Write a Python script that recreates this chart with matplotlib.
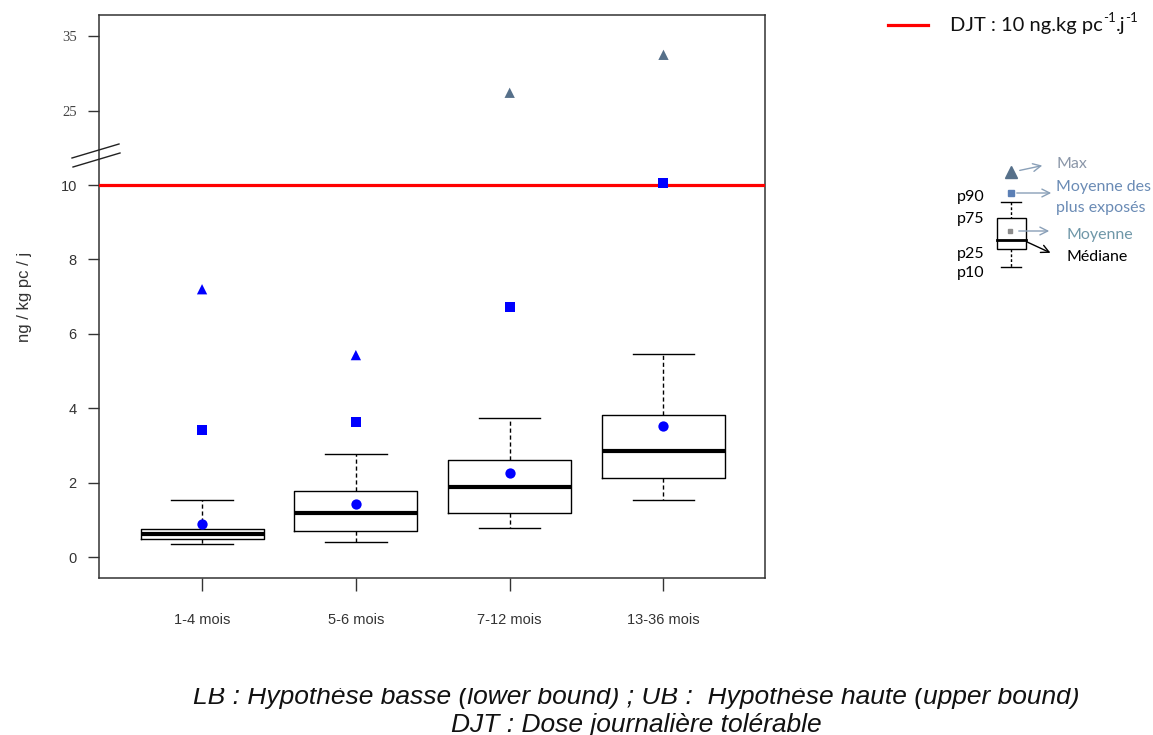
import numpy as np
import matplotlib
matplotlib.use("Agg")
import matplotlib.pyplot as plt
from matplotlib.patches import Rectangle
from matplotlib.transforms import Bbox

# ---------------- data ----------------
groups = ['1-4 mois', '5-6 mois', '7-12 mois', '13-36 mois']
p10 = [0.35, 0.40, 0.78, 1.53]
p25 = [0.48, 0.70, 1.18, 2.12]
median = [0.61, 1.18, 1.88, 2.85]
p75 = [0.75, 1.77, 2.61, 3.83]
p90 = [1.53, 2.76, 3.75, 5.45]
mean_all = [0.88, 1.42, 2.27, 3.52]
mean_top = [3.43, 3.63, 6.72, 10.05]
max_val = [7.20, 5.43, 27.4, 32.5]
djt = 10
yticks_low = [0, 2, 4, 6, 8, 10]
yticks_high = [25, 35]

# ---------------- style ----------------
W, H = 1153, 735
fig = plt.figure(figsize=(W / 100, H / 100), dpi=100)
ax = fig.add_axes([99 / W, 1 - 578 / H, 666 / W, 563 / H])

# broken axis scale (linear up to 10, compressed above)
XP = [-100, 10.3, 20, 200]
FP = [-100, 10.3, 11, 47]
fwd = lambda v: np.interp(v, XP, FP)
inv = lambda d: np.interp(d, FP, XP)
ax.set_yscale('function', functions=(fwd, inv))

pos = np.arange(1, len(groups) + 1)
stats = [dict(whislo=a, q1=b, med=c, q3=d, whishi=e, fliers=[])
         for a, b, c, d, e in zip(p10, p25, median, p75, p90)]
ax.bxp(stats, positions=pos, widths=0.8, capwidths=0.4, showfliers=False,
       boxprops=dict(color='black', lw=1.0),
       medianprops=dict(color='black', lw=3.0, solid_capstyle='butt'),
       whiskerprops=dict(color='black', lw=1.0, linestyle=(0, (3, 2))),
       capprops=dict(color='black', lw=1.0), zorder=2)

ax.axhline(djt, color='#ff0000', lw=2.3, zorder=3)

blue = '#0000ff'
slate = '#56708a'
tri_colors = [blue, blue, slate, slate]
ax.scatter(pos, mean_all, marker='o', s=55, color=blue, zorder=4, linewidths=0)
ax.scatter(pos, mean_top, marker='s', s=42, color=blue, zorder=4, linewidths=0)
ax.scatter(pos, max_val, marker='^', s=55, color=tri_colors, zorder=4, linewidths=0)

ax.set_xlim(0.33, 4.66)
ax.set_ylim(-0.56, inv(14.57))
ax.set_xticks(pos)
ax.set_xticklabels(groups, fontsize=10.5, color='#333333', fontfamily='Liberation Sans')
ax.set_yticks(yticks_low + yticks_high)
ax.set_yticklabels([str(v) for v in yticks_low + yticks_high], fontsize=10.5,
                   color='#333333', fontfamily='Liberation Sans')
for lab in ax.get_yticklabels():
    if lab.get_text() in [str(v) for v in yticks_high]:
        lab.set_fontfamily('Liberation Serif')
        lab.set_fontsize(10.5)
        lab.set_color('#444444')
ax.tick_params(axis='y', length=8, width=1, color='#333333', pad=8)
ax.tick_params(axis='x', length=9, width=1, color='#333333', pad=16)
ax.minorticks_off()
for s in ax.spines.values():
    s.set_color('#333333')
    s.set_linewidth(1.1)
ax.set_ylabel('ng / kg pc / j', fontsize=12, fontfamily='Liberation Sans', color='#333333')
ax.yaxis.set_label_coords(-67 / 666, (578 - 297) / 563)

# ---------------- overlay (pixel coords) ----------------
ov = fig.add_axes([0, 0, 1, 1], zorder=10)
ov.set_xlim(0, W)
ov.set_ylim(H, 0)
ov.axis('off')
ov.patch.set_alpha(0)

# break marks
ov.plot([72, 119], [158, 144], color='#222222', lw=1.0)
ov.plot([73, 120], [167, 153], color='#222222', lw=1.0)

# top-right legend
ov.plot([888, 928], [25, 25], color='#ff0000', lw=2.3)
tk = dict(fontfamily='Lato', va='center', ha='left', color='#111111')
t_main = ov.text(950, 25, 'DJT : 10 ng.kg pc', fontsize=14.5, **tk)


def px(xd):
    return ov.transData.inverted().transform((xd, 0))[0]


fig.canvas.draw()
s1 = ov.text(px(t_main.get_window_extent().x1), 18, '-1', fontsize=9.5, **tk)
fig.canvas.draw()
s2 = ov.text(px(s1.get_window_extent().x1), 25, '.j', fontsize=14.5, **tk)
fig.canvas.draw()
ov.text(px(s2.get_window_extent().x1), 18, '-1', fontsize=9.5, **tk)

# schematic key
lf = dict(fontfamily='Lato', fontsize=11.5, va='center', ha='left')
arr_c = '#8aa0b8'
ov.plot([1011], [172], marker='^', ms=8, color=slate)
ov.annotate('', xy=(1045, 165), xytext=(1017, 171),
            arrowprops=dict(arrowstyle='->', color=arr_c, lw=1, mutation_scale=14))
ov.text(1057, 164, 'Max', color='#8a96a8', **lf)
ov.plot([1011], [193], marker='s', ms=4.5, color='#5b7fb5')
ov.annotate('', xy=(1054, 193), xytext=(1014, 193),
            arrowprops=dict(arrowstyle='->', color=arr_c, lw=1, mutation_scale=14))
ov.text(1056, 187, 'Moyenne des', color='#6a8bb5', **lf)
ov.text(1056, 208, 'plus exposés', color='#6a8bb5', **lf)
for t, yy in [('p90', 197), ('p75', 219), ('p25', 254), ('p10', 273)]:
    ov.text(957, yy, t, color='black', **lf)
ov.plot([1001, 1021], [202, 202], color='black', lw=1)
ov.plot([1011, 1011], [202, 218], color='black', lw=1, ls=(0, (2, 1.5)))
ov.add_patch(Rectangle((997, 218), 29, 31, fill=False, ec='black', lw=1))
ov.plot([997, 1026], [240, 240], color='black', lw=2)
ov.plot([1010], [231], marker='s', ms=3.5, color='#8c8c8c')
ov.annotate('', xy=(1052, 231), xytext=(1016, 231),
            arrowprops=dict(arrowstyle='->', color=arr_c, lw=1, mutation_scale=14))
ov.text(1067, 235, 'Moyenne', color='#6f97a8', **lf)
ov.annotate('', xy=(1053, 254), xytext=(1025, 241),
            arrowprops=dict(arrowstyle='->', color='black', lw=1, mutation_scale=14))
ov.text(1067, 257, 'Médiane', color='black', **lf)
ov.plot([1011, 1011], [249, 267], color='black', lw=1, ls=(0, (2, 1.5)))
ov.plot([1001, 1021], [267, 267], color='black', lw=1)

# bottom notes
t1 = ov.text(636, 704, 'LB : Hypothèse basse (lower bound) ; UB :  Hypothèse haute (upper bound)',
             fontsize=19, fontfamily='Liberation Sans', style='italic', ha='center',
             va='baseline', color='#111111')
clip = Bbox.from_extents(0, 0, W, H - 688)
t1.set_clip_on(True)
t1.set_clip_box(clip)
ov.text(636, 732, 'DJT : Dose journalière tolérable', fontsize=19,
        fontfamily='Liberation Sans', style='italic', ha='center', va='baseline',
        color='#111111')

fig.savefig('out.png', dpi=100)
